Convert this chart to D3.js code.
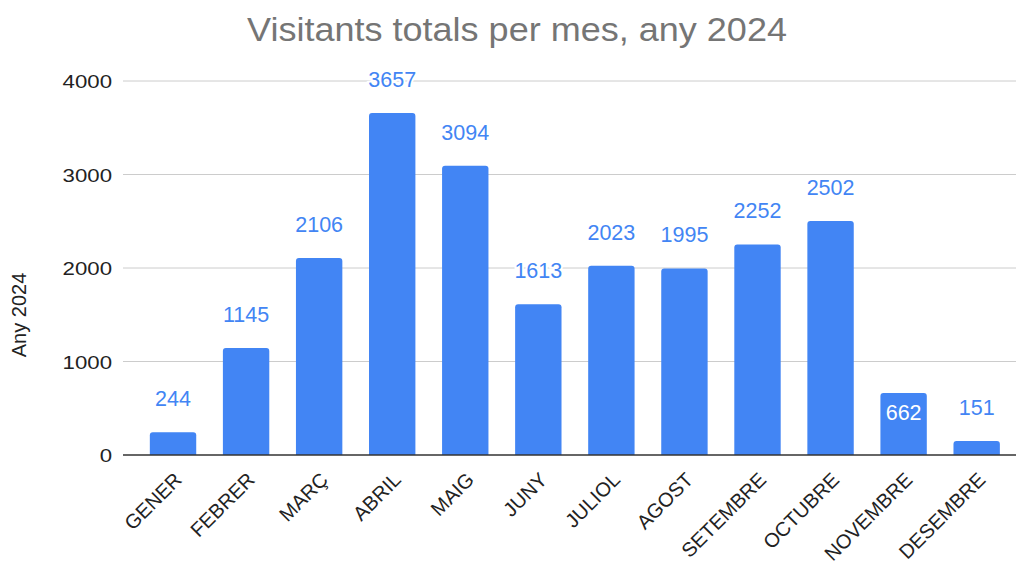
<!DOCTYPE html>
<html>
<head>
<meta charset="utf-8">
<script src="https://cdn.jsdelivr.net/npm/d3@7"></script>
<style>
  body { margin: 0; background: #fff; }
  text { font-family: "Liberation Sans", Arial, sans-serif; }
</style>
</head>
<body>
<svg width="1016" height="565"></svg>
<script>
const months = ['GENER', 'FEBRER', 'MARÇ', 'ABRIL', 'MAIG', 'JUNY', 'JULIOL', 'AGOST', 'SETEMBRE', 'OCTUBRE', 'NOVEMBRE', 'DESEMBRE'];
const visitors = [244, 1145, 2106, 3657, 3094, 1613, 2023, 1995, 2252, 2502, 662, 151];
const yTicks = [0, 1000, 2000, 3000, 4000];
// labels drawn inside the bar (white) instead of above it
const insideLabels = ['NOVEMBRE'];

const svg = d3.select('svg');
const blue = '#4285f4';

const x = d3.scaleBand()
  .domain(months)
  .range([136.5, 1013.2])
  .paddingInner(0.365)
  .paddingOuter(0.1825);

const y = d3.scaleLinear()
  .domain([0, 4000])
  .range([455, 81]);

// title
svg.append('text')
  .attr('transform', 'translate(517,40.5) scale(1.06,1)')
  .attr('text-anchor', 'middle')
  .attr('font-size', 34)
  .attr('fill', '#757575')
  .text('Visitants totals per mes, any 2024');

// grid
svg.append('g')
  .selectAll('line')
  .data(yTicks.filter(d => d > 0))
  .join('line')
  .attr('x1', 123)
  .attr('x2', 1016)
  .attr('y1', d => y(d))
  .attr('y2', d => y(d))
  .attr('stroke', '#cccccc')
  .attr('stroke-width', 1);

// y axis labels
const yAxis = svg.append('g')
  .attr('transform', 'translate(112,0)')
  .call(d3.axisLeft(y).tickValues(yTicks).tickFormat(d3.format('d')).tickSize(0).tickPadding(0));
yAxis.select('.domain').remove();
yAxis.selectAll('.tick text')
  .attr('x', null)
  .attr('dy', null)
  .attr('y', 6.8)
  .attr('transform', 'scale(1.17,1)')
  .attr('font-family', '"Liberation Sans", Arial, sans-serif')
  .attr('font-size', 19)
  .attr('fill', '#222');

svg.append('text')
  .attr('transform', 'translate(25.5,315) rotate(-90)')
  .attr('text-anchor', 'middle')
  .attr('font-size', 20)
  .attr('fill', '#222')
  .text('Any 2024');

// bars with rounded top corners
const r = 3;
svg.append('g')
  .selectAll('path')
  .data(months)
  .join('path')
  .attr('fill', blue)
  .attr('d', (m, i) => {
    const x0 = x(m);
    const w = x.bandwidth();
    const yt = y(visitors[i]);
    const yb = y(0);
    return `M${x0},${yb} V${yt + r} Q${x0},${yt} ${x0 + r},${yt} H${x0 + w - r} Q${x0 + w},${yt} ${x0 + w},${yt + r} V${yb} Z`;
  });

// baseline
svg.append('line')
  .attr('x1', 123)
  .attr('x2', 1016)
  .attr('y1', y(0))
  .attr('y2', y(0))
  .attr('stroke', '#333')
  .attr('stroke-width', 1.3);

// value labels
svg.append('g')
  .selectAll('text')
  .data(months)
  .join('text')
  .attr('x', m => x(m) + x.bandwidth() / 2)
  .attr('y', (m, i) => insideLabels.includes(m) ? y(visitors[i]) + 27 : y(visitors[i]) - 26)
  .attr('text-anchor', 'middle')
  .attr('font-size', 21.5)
  .attr('fill', m => insideLabels.includes(m) ? '#fff' : blue)
  .attr('stroke', m => insideLabels.includes(m) ? 'none' : '#fff')
  .attr('stroke-width', 4)
  .attr('paint-order', 'stroke')
  .text((m, i) => visitors[i]);

// x labels
svg.append('g')
  .selectAll('text')
  .data(months)
  .join('text')
  .attr('transform', m => `translate(${x(m) + x.bandwidth() / 2 + 10},481) rotate(-45)`)
  .attr('text-anchor', 'end')
  .attr('font-size', 20)
  .attr('fill', '#222')
  .text(m => m);
</script>
</body>
</html>
